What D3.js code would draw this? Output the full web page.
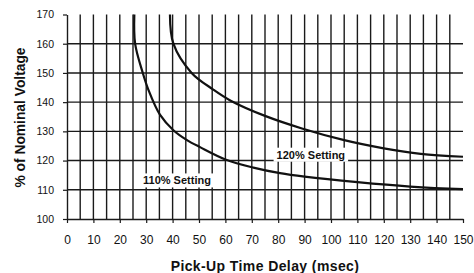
<!DOCTYPE html>
<html><head><meta charset="utf-8">
<script src="https://cdn.jsdelivr.net/npm/d3@7"></script>
<style>body{margin:0;background:#fff}svg{display:block}text{font-family:"Liberation Sans",Arial,sans-serif;fill:#111}</style>
</head><body>
<svg id="c" width="474" height="273"></svg>
<script>
const xTicks = [0,10,20,30,40,50,60,70,80,90,100,110,120,130,140,150];
const yTicks = [100,110,120,130,140,150,160,170];
const s110x = [25.5,25.8,28.7,30.8,35.2,40.3,45.3,50.4,60,70.6,80.7,90,110,130,150];
const s110y = [170,160,150,144.3,135.7,130.4,127.1,124.6,120.4,117.6,115.7,114.5,112.6,111.1,110.2];
const s120x = [39,40.3,47.2,55.4,62,75,89,105,120,134,150];
const s120y = [170,160,150,144.3,140.5,135.3,131,127,124.2,122.3,121.3];
const labels = [{t:"110% Setting", x:28.8, y:113.15},{t:"120% Setting", x:79.4, y:121.96}];

const svg = d3.select("#c");
const L=67,R=463,T=14.5,B=219;
const x = d3.scaleLinear().domain([0,150]).range([L,R]);
const y = d3.scaleLinear().domain([100,170]).range([B,T]);
const g = svg.append("g");
const grid = "#1a1a1a";
d3.range(5,150,5).forEach(v=>{
  g.append("line").attr("x1",x(v)).attr("x2",x(v)).attr("y1",T).attr("y2",B)
   .attr("stroke",grid).attr("stroke-width",1.4);
});
yTicks.filter(v=>v>100 && v<170).forEach(v=>{
  g.append("line").attr("x1",L).attr("x2",R).attr("y1",y(v)).attr("y2",y(v))
   .attr("stroke",grid).attr("stroke-width",1.4);
});
const xa = svg.append("g").attr("transform",`translate(0,${B})`)
  .call(d3.axisBottom(x).tickValues(xTicks).tickSize(4).tickPadding(12.5).tickSizeOuter(0));
const ya = svg.append("g").attr("transform",`translate(${L},0)`)
  .call(d3.axisLeft(y).tickValues(yTicks).tickSize(4).tickPadding(9).tickSizeOuter(0));
[[xa,"12px"],[ya,"10.5px"]].forEach(([a,fs])=>{
  a.select(".domain").attr("stroke",grid).attr("stroke-width",1.4);
  a.selectAll(".tick line").attr("stroke",grid).attr("stroke-width",1.2);
  a.selectAll("text").attr("font-size",fs).attr("fill","#111")
   .style("font-family",'"Liberation Sans",Arial,sans-serif');
});
const lg = svg.append("g");
labels.forEach(l=>{
  const tx = lg.append("text").attr("x",x(l.x)).attr("y",y(l.y)).attr("dy","0.35em")
    .attr("font-size","11px").attr("font-weight","bold").text(l.t);
  const bb = tx.node().getBBox();
  lg.insert("rect", () => tx.node()).attr("x",bb.x-3).attr("y",bb.y-1)
    .attr("width",bb.width+6).attr("height",bb.height+2).attr("fill","#fff");
});
const line = d3.line().x(d=>x(d[0])).y(d=>y(d[1])).curve(d3.curveCatmullRom.alpha(0.5));
[[s110x,s110y],[s120x,s120y]].forEach(([xs,ys])=>{
  svg.append("path").datum(xs.map((v,i)=>[v,ys[i]])).attr("d",line)
    .attr("fill","none").attr("stroke","#111").attr("stroke-width",2.2);
});
svg.append("text").attr("x",265).attr("y",271).attr("text-anchor","middle")
  .attr("font-size","14px").attr("font-weight","bold").attr("letter-spacing","0.4px")
  .text("Pick-Up Time Delay (msec)");
svg.append("text").attr("transform",`translate(25,117.5) rotate(-90)`).attr("text-anchor","middle")
  .attr("font-size","13.8px").attr("font-weight","bold").text("% of Nominal Voltage");
</script>
</body></html>
